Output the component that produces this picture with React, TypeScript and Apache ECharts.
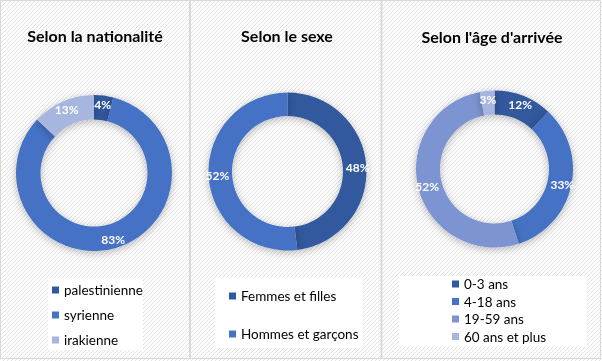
import React, { useEffect, useRef } from "react";
import * as echarts from "echarts";

const natNames = ["palestinienne", "syrienne", "irakienne"];
const natValues = [4, 83, 13];
const sexNames = ["Femmes et filles", "Hommes et garçons"];
const sexValues = [48, 52];
const ageNames = ["0-3 ans", "4-18 ans", "19-59 ans", "60 ans et plus"];
const ageValues = [12, 33, 52, 3];
const titles = ["Selon la nationalité", "Selon le sexe", "Selon l'âge d'arrivée"];

const dark = "#30589D";
const mid = "#4472C4";
const light3 = "#7C94D1";
const light4 = "#A7B6DE";
const natColors = [dark, mid, light4];
const sexColors = [dark, mid];
const ageColors = [dark, mid, light3, light4];

const FONT = "Lato, 'Open Sans', sans-serif";

const hatch =
  "url(\"data:image/svg+xml;utf8," +
  encodeURIComponent(
    "<svg xmlns='http://www.w3.org/2000/svg' width='4' height='4' shape-rendering='crispEdges'><rect width='4' height='4' fill='#ffffff'/><rect x='0' y='3' width='1' height='1' fill='#e2e2e2'/><rect x='1' y='2' width='1' height='1' fill='#e2e2e2'/><rect x='2' y='1' width='1' height='1' fill='#e2e2e2'/><rect x='3' y='0' width='1' height='1' fill='#e2e2e2'/></svg>"
  ) +
  "\")";

function pie(names: string[], values: number[], colors: string[], center: number[], radius: number[]) {
  return {
    type: "pie",
    center,
    radius,
    startAngle: 90,
    clockwise: true,
    avoidLabelOverlap: false,
    label: {
      show: true,
      position: "inside",
      formatter: "{c}%",
      color: "#ffffff",
      fontSize: 12,
      fontWeight: "bold",
      fontFamily: FONT,
    },
    labelLine: { show: false },
    emphasis: { disabled: true },
    itemStyle: {
      borderWidth: 0,
      shadowBlur: 8,
      shadowColor: "rgba(0,0,0,0.28)",
      shadowOffsetY: 2,
    },
    data: names.map((n, i) => ({ name: n, value: values[i], itemStyle: { color: colors[i] } })),
  };
}

function legend(names: string[], left: number, top: number, gap: number) {
  return {
    data: names,
    orient: "vertical",
    left,
    top,
    padding: 0,
    itemGap: gap,
    itemWidth: 7,
    itemHeight: 7,
    icon: "rect",
    selectedMode: false,
    textStyle: { fontSize: 13.5, fontFamily: FONT, color: "#000", lineHeight: 14 },
  };
}

function titleText(text: string, x: number, y: number) {
  return {
    type: "text",
    x,
    y,
    z: 10,
    style: {
      text,
      fontSize: 16,
      fontWeight: "bold",
      fontFamily: FONT,
      fill: "#000",
      align: "center",
      verticalAlign: "middle",
      textAlign: "center",
      textVerticalAlign: "middle",
    },
  };
}

export default function App() {
  const ref = useRef<HTMLDivElement>(null);
  useEffect(() => {
    if (!ref.current) return;
    const chart = echarts.init(ref.current, null, { renderer: "svg" });
    chart.setOption({
      animation: false,
      backgroundColor: "transparent",
      legend: [
        legend(natNames, 52, 283, 11),
        legend(sexNames, 229, 289, 24),
        legend(ageNames, 452, 277, 3.5),
      ],
      graphic: [
        { type: "rect", shape: { x: 48, y: 278, width: 95, height: 72 }, style: { fill: "#fff" } },
        { type: "rect", shape: { x: 215, y: 277, width: 148, height: 71 }, style: { fill: "#fff" } },
        { type: "rect", shape: { x: 399, y: 276, width: 188, height: 71 }, style: { fill: "#fff" } },
        { type: "rect", shape: { x: 0.5, y: 0.5, width: 600, height: 358 }, style: { fill: "none", stroke: "#d9d9d9", lineWidth: 1 } },
        { type: "line", shape: { x1: 190, y1: 0, x2: 190, y2: 359 }, style: { stroke: "#d9d9d9", lineWidth: 2 } },
        { type: "line", shape: { x1: 381.5, y1: 0, x2: 381.5, y2: 359 }, style: { stroke: "#d9d9d9", lineWidth: 2 } },
        titleText(titles[0], 95, 35),
        titleText(titles[1], 287, 35),
        titleText(titles[2], 492, 36),
      ],
      series: [
        pie(natNames, natValues, natColors, [94, 173], [53.5, 78]),
        pie(sexNames, sexValues, sexColors, [287.5, 171.5], [55.5, 79]),
        pie(ageNames, ageValues, ageColors, [494.5, 169], [54.5, 78.5]),
      ],
    });
    return () => chart.dispose();
  }, []);
  return (
    <div
      ref={ref}
      style={{
        position: "fixed",
        left: 0,
        top: 0,
        width: 602,
        height: 361,
        backgroundImage: hatch,
        backgroundRepeat: "repeat",
      }}
    />
  );
}
